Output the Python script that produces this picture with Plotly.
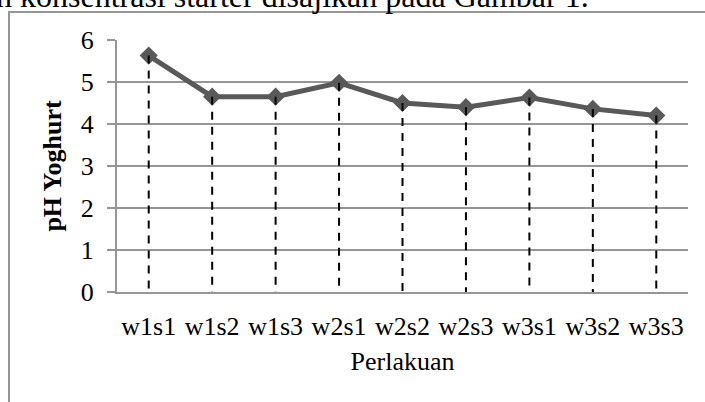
import plotly.graph_objects as go

categories = ["w1s1", "w1s2", "w1s3", "w2s1", "w2s2", "w2s3", "w3s1", "w3s2", "w3s3"]
ph_values = [5.63, 4.65, 4.65, 4.98, 4.50, 4.40, 4.63, 4.36, 4.20]
y_ticks = [0, 1, 2, 3, 4, 5, 6]

W, H = 705, 402
L, R, T, B = 117, 17, 40, 110

font = "Liberation Serif, Times New Roman, serif"
grey = "#969696"

fig = go.Figure()

fig.add_trace(go.Scatter(
    x=categories, y=ph_values, mode="lines+markers",
    line=dict(color="#595959", width=5),
    marker=dict(symbol="diamond", size=14, color="#595959"),
    showlegend=False, hoverinfo="skip",
))

# drop lines from each point to the axis
dx, dy = [], []
for c, v in zip(categories, ph_values):
    dx += [c, c, None]
    dy += [v, 0, None]
fig.add_trace(go.Scatter(
    x=dx, y=dy, mode="lines",
    line=dict(color="black", width=2, dash="8px,7px"),
    showlegend=False, hoverinfo="skip",
))

fig.update_layout(
    width=W, height=H,
    margin=dict(l=L, r=R, t=T, b=B, pad=0),
    paper_bgcolor="white", plot_bgcolor="white",
    font=dict(family=font, size=26, color="black"),
    xaxis=dict(
        type="category", categoryorder="array", categoryarray=categories,
        range=[-0.5, len(categories) - 0.5],
        showline=True, linecolor=grey, linewidth=2,
        showgrid=False, ticks="", ticklabelstandoff=10,
        tickfont=dict(family=font, size=26),
        title=dict(text="Perlakuan", font=dict(family=font, size=26), standoff=12),
        zeroline=False,
    ),
    yaxis=dict(
        range=[0, 6], tickvals=y_ticks,
        showline=True, linecolor=grey, linewidth=2,
        showgrid=True, gridcolor=grey, gridwidth=2,
        ticks="outside", ticklen=8, tickcolor=grey, tickwidth=2,
        ticklabelstandoff=8,
        tickfont=dict(family=font, size=26),
        title=dict(text="<b>pH Yoghurt</b>", font=dict(family=font, size=26), standoff=12),
        zeroline=False,
    ),
    shapes=[dict(
        type="rect", xref="paper", yref="paper",
        x0=(9 - L) / (W - L - R), x1=(W + 20 - L) / (W - L - R),
        y0=-1.0, y1=(H - 12 - B) / (H - T - B),
        line=dict(color=grey, width=2), fillcolor="rgba(0,0,0,0)", layer="below",
    )],
    annotations=[dict(
        text="h konsentrasi starter disajikan pada Gambar 1.",
        xref="paper", yref="paper",
        x=(-6 - L) / (W - L - R), y=(H - 16 - B) / (H - T - B),
        xanchor="left", yanchor="bottom", showarrow=False,
        font=dict(family=font, size=32, color="black"),
    )],
)

fig.write_html("out.html", config={"displayModeBar": False},
               post_script="document.body.style.margin='0';document.body.style.overflow='hidden';")
